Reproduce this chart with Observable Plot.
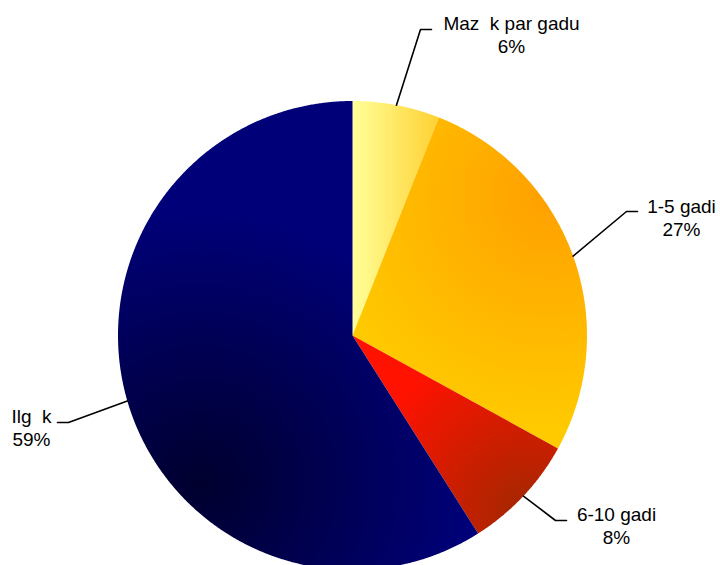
<!DOCTYPE html>
<html><head><meta charset="utf-8">
<script src="https://cdn.jsdelivr.net/npm/d3@7"></script>
<script src="https://cdn.jsdelivr.net/npm/@observablehq/plot@0.6"></script>
<style>html,body{margin:0;padding:0;background:#fff;overflow:hidden}</style>
</head><body><div id="chart"></div>
<script>
// ---- data ----
const categories = ["Maz\u00a0\u00a0k par gadu", "1-5 gadi", "6-10 gadi", "Ilg\u00a0\u00a0k"];
const shares = [6, 27, 8, 59];
const shareLabels = ["6%", "27%", "8%", "59%"];

// ---- layout ----
const W = 720, H = 565, CX = 352, CY = 335, R = 234.5;
const elbows = [[420, 29], [626, 211], [555, 520], [68, 422]];
const tickDir = [1, 1, 1, -1];
const tickLen = 11;
const textAt = [[511, 52], [681, 235], [616, 543], [31, 445]];
const FONT = "'Liberation Sans', Arial, Helvetica, sans-serif";

const arcs = d3.pie().sort(null).value(d => d)(shares);
const pt = (a, r) => [CX + r * Math.sin(a), CY - r * Math.cos(a)];

const slices = arcs.map((a, i) => {
  const pts = [{x: CX, y: CY}];
  const n = Math.max(8, Math.ceil((a.endAngle - a.startAngle) / 0.005));
  for (let k = 0; k <= n; k++) {
    const ang = a.startAngle + (a.endAngle - a.startAngle) * k / n;
    const [x, y] = pt(ang, R);
    pts.push({x, y});
  }
  pts.push({x: CX, y: CY});
  return pts;
});

const leaders = arcs.map((a, i) => {
  const mid = (a.startAngle + a.endAngle) / 2;
  const [x0, y0] = pt(mid, R);
  const [ex, ey] = elbows[i];
  return [{x: x0, y: y0, k: i}, {x: ex, y: ey, k: i}, {x: ex + tickDir[i] * tickLen, y: ey, k: i}];
}).flat();

const labelRows = categories.map((c, i) => ({
  text: c + "\n" + shareLabels[i], x: textAt[i][0], y: textAt[i][1]
}));

function gradients(index, scales) {
  const sx = scales.x, sy = scales.y;
  const defs = d3.create("svg:defs");
  const lin = defs.append("linearGradient").attr("id", "g0").attr("gradientUnits", "userSpaceOnUse")
    .attr("x1", sx(CX)).attr("y1", sy(CY)).attr("x2", sx(CX + 88)).attr("y2", sy(CY));
  lin.append("stop").attr("offset", 0).attr("stop-color", "#FFFF99");
  lin.append("stop").attr("offset", 1).attr("stop-color", "#FFD030");
  const radial = (id, cx, cy, r, stops) => {
    const g = defs.append("radialGradient").attr("id", id).attr("gradientUnits", "userSpaceOnUse")
      .attr("cx", sx(cx)).attr("cy", sy(cy)).attr("r", r);
    stops.forEach(([o, c]) => g.append("stop").attr("offset", o).attr("stop-color", c));
  };
  radial("g1", 548, 195, 240, [[0, "#FFA000"], [1, "#FFCB00"]]);
  radial("g2", 528, 515, 175, [[0, "#A02800"], [1, "#FF1200"]]);
  radial("g3", 200, 482, 270, [[0, "#00002E"], [1, "#000078"]]);
  return defs.node();
}

const chart = Plot.plot({
  width: W, height: H,
  marginTop: 0, marginRight: 0, marginBottom: 0, marginLeft: 0,
  x: {domain: [0, W], range: [0, W], axis: null},
  y: {domain: [0, H], range: [0, H], axis: null},
  style: {background: "#fff", overflow: "visible"},
  marks: [
    gradients,
    ...slices.map((s, i) => Plot.line(s, {x: "x", y: "y", fill: `url(#g${i})`, stroke: "none", curve: "linear"})),
    Plot.line(leaders, {x: "x", y: "y", z: "k", stroke: "#000", strokeWidth: 1.6, curve: "linear"}),
    Plot.text(labelRows, {x: "x", y: "y", text: "text", textAnchor: "middle", lineAnchor: "bottom",
      lineHeight: 1.21, fontSize: 19, fontFamily: FONT, fill: "#000"})
  ]
});
document.getElementById("chart").appendChild(chart);
</script>
</body></html>
